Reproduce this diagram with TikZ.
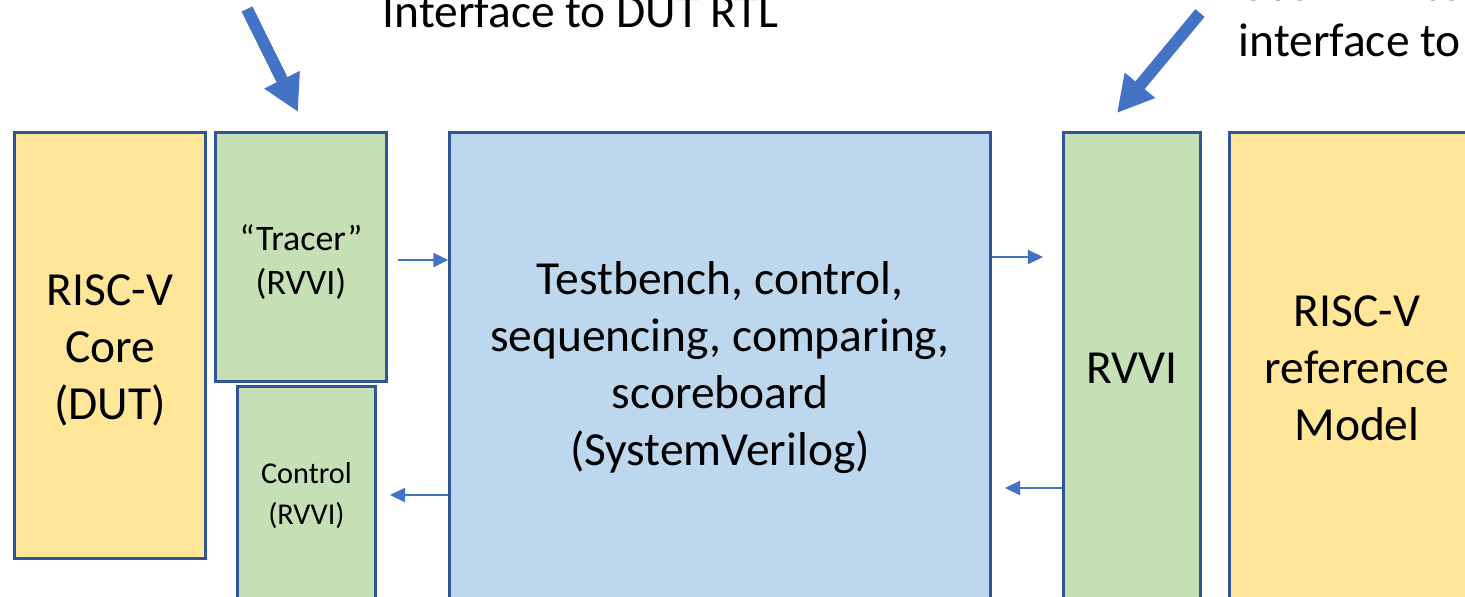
\documentclass[tikz,border=0pt]{standalone}
\usepackage{fontspec}
\setmainfont{Carlito}
\usetikzlibrary{arrows.meta}
\definecolor{yel}{HTML}{FFE699}
\definecolor{grn}{HTML}{C5E0B4}
\definecolor{blu}{HTML}{BDD7EE}
\definecolor{bord}{HTML}{2F5597}
\definecolor{arr}{HTML}{4472C4}
\tikzset{
  box/.style={draw=bord, line width=0.85pt, inner sep=0pt, align=center, font=\fontsize{13.5}{16.2}\selectfont},
  lbl/.style={inner sep=0pt, font=\fontsize{13.5}{16.2}\selectfont},
  sarrow/.style={draw=arr, line width=0.6pt, -{Triangle[length=0.15cm,width=0.14cm]}},
  bigarrow/.style={draw=arr, fill=arr, line width=0.12cm, -{Triangle[length=0.36cm,width=0.37cm]}}
}
\begin{document}
\begin{tikzpicture}[x=0.01cm,y=-0.01cm]
\useasboundingbox (0,0) rectangle (1465,596);
\clip (0,0) rectangle (1465,596);
\fill[white] (0,0) rectangle (1465,596);

\node[box, fill=yel, minimum width=1.90cm, minimum height=4.25cm] (dut) at (110,345.5) {};
\node[lbl, align=center] (dutt) at (110,350) {RISC-V\\Core\\(DUT)};
\node[box, fill=grn, minimum width=1.70cm, minimum height=2.48cm] (tracer) at (301,257) {};
\node[lbl, align=center, font=\fontsize{10.2}{12.5}\selectfont] (tracert) at (301,262) {“Tracer”\\(RVVI)};
\node[box, fill=grn, minimum width=1.37cm, minimum height=2.18cm, font=\fontsize{8.6}{11.7}\selectfont] (control) at (306.5,496) {Control\\(RVVI)};
\node[box, fill=blu, minimum width=5.40cm, minimum height=4.70cm] (tb) at (720,368) {Testbench, control,\\sequencing, comparing,\\scoreboard\\(SystemVerilog)};
\node[box, fill=grn, minimum width=1.36cm, minimum height=4.70cm] (rvvi) at (1132,368) {RVVI};
\node[box, fill=yel, minimum width=2.54cm, minimum height=4.70cm] (ref) at (1357,368) {RISC-V\\reference\\Model};

\node[lbl, anchor=base west] (t1) at (382,27) {Interface to DUT RTL};
\node[lbl, anchor=base west] (t2a) at (1238,0) {Use RVVI to};
\node[lbl, anchor=base west] (t2b) at (1238,56) {interface to};

\coordinate (b1s) at (247,9);
\coordinate (b1e) at (298,112);
\draw[bigarrow] (b1s) -- (b1e);
\coordinate (b2s) at (1200,13);
\coordinate (b2e) at (1117,113);
\draw[bigarrow] (b2s) -- (b2e);

\coordinate (s1) at (398,260);
\draw[sarrow] (s1) -- (s1 -| tb.west);
\coordinate (s2) at (1043,257);
\draw[sarrow] (s2 -| tb.east) -- (s2);
\coordinate (s3) at (390,495);
\draw[sarrow] (s3 -| tb.west) -- (s3);
\coordinate (s4) at (1005,488);
\draw[sarrow] (s4 -| rvvi.west) -- (s4);
\end{tikzpicture}
\end{document}
